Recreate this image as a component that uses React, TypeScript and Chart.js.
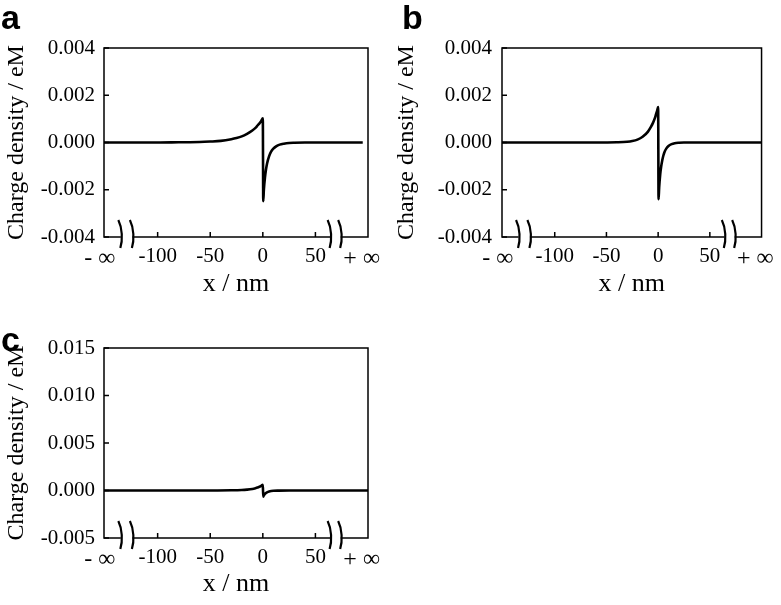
import React, { useEffect, useRef } from 'react';
import { Chart, registerables } from 'chart.js';

Chart.register(...registerables);

// ---- data (x in nm, charge density in eM) ----
const xA = [-151, -120, -100, -80, -60, -50, -40, -30, -25, -20, -15, -10, -7, -5, -3, -1.5, 0, 0.4, 1, 2, 3, 4, 6, 8, 10, 13, 16, 20, 25, 30, 40, 60, 80, 95];
const yA = [0, 0, 0, 0.00001, 0.00002, 0.00004, 0.00007, 0.00014, 0.00019, 0.00026, 0.00037, 0.00051, 0.00062, 0.00072, 0.00082, 0.00091, 0.00102, -0.00248, -0.002, -0.0015, -0.00115, -0.0009, -0.00058, -0.00038, -0.00026, -0.00015, -0.00009, -0.00005, -0.00002, -0.00001, 0, 0, 0, 0];

const xB = [-151, -100, -60, -40, -30, -25, -20, -15, -10, -7, -5, -3, -2, -1, 0, 0.4, 1, 2, 3, 4, 5, 6, 8, 10, 13, 16, 20, 25, 30, 40, 60, 100];
const yB = [0, 0, 0, 0.00001, 0.00003, 0.00006, 0.00012, 0.00024, 0.00045, 0.00066, 0.00083, 0.00105, 0.0012, 0.00134, 0.0015, -0.0024, -0.0019, -0.00135, -0.001, -0.00075, -0.00056, -0.00042, -0.00025, -0.00015, -0.00007, -0.00003, -0.00001, 0, 0, 0, 0, 0];

const xC = [-151, -60, -30, -20, -15, -10, -7, -5, -3, -1.5, 0, 0.4, 1, 2, 3, 4, 6, 8, 10, 15, 25, 40, 100];
const yC = [0, 0, 0.00002, 0.00005, 0.00009, 0.00016, 0.00024, 0.00031, 0.0004, 0.0005, 0.0006, -0.00065, -0.0005, -0.00036, -0.00027, -0.0002, -0.00011, -0.00006, -0.00003, -0.00001, 0, 0, 0];

const yTicksAB = [-0.004, -0.002, 0, 0.002, 0.004];
const yTicksC = [-0.005, 0, 0.005, 0.01, 0.015];
const xTickValues = [-100, -50, 0, 50];
const xInfValues = [-155, 94];
const xInfLabels = ['- \u221E', '+ \u221E'];
const breakLeft = [-135, -124];
const breakRight = [64, 74];
const xMin = -151;
const xMax = 100;

const yTitle = 'Charge density / eM';
const xTitle = 'x / nm';
const panelLetters = ['a', 'b', 'c'];

const SERIF = "'Liberation Serif', 'Times New Roman', serif";

type PanelProps = {
  xs: number[];
  ys: number[];
  yTicks: number[];
  width: number;
  height: number;
  yAxisWidth: number;
  padTop: number;
  padRight: number;
  xAxisHeight: number;
  yTickPad: number;
  xTitlePadBottom: number;
};

const framePlugin = {
  id: 'frameBreaks',
  afterDraw(chart: any) {
    const { ctx, chartArea } = chart;
    const { left, right, top, bottom } = chartArea;
    const x = chart.scales.x;
    const y = chart.scales.y;
    const yTicks: number[] = chart.options.plugins.frameBreaks.yTicks;
    ctx.save();
    ctx.strokeStyle = '#000';
    ctx.lineWidth = 1.5;
    ctx.strokeRect(left, top, right - left, bottom - top);
    ctx.beginPath();
    for (const v of yTicks) {
      const py = y.getPixelForValue(v);
      ctx.moveTo(left, py);
      ctx.lineTo(left + 5, py);
    }
    for (const v of xTickValues) {
      const px = x.getPixelForValue(v);
      ctx.moveTo(px, bottom);
      ctx.lineTo(px, bottom - 5);
    }
    ctx.stroke();
    for (const pair of [breakLeft, breakRight]) {
      const p1 = x.getPixelForValue(pair[0]);
      const p2 = x.getPixelForValue(pair[1]);
      ctx.fillStyle = '#fff';
      ctx.fillRect(p1, bottom - 2, p2 - p1, 4);
      ctx.lineWidth = 2.2;
      for (const p of [p1, p2]) {
        ctx.beginPath();
        ctx.moveTo(p - 2.5, bottom - 17);
        ctx.bezierCurveTo(p + 1.5, bottom - 9, p + 2, bottom + 3, p - 0.5, bottom + 11);
        ctx.stroke();
      }
    }
    ctx.restore();
  },
};

function Panel(props: PanelProps) {
  const ref = useRef<HTMLCanvasElement | null>(null);
  useEffect(() => {
    if (!ref.current) return;
    const { xs, ys, yTicks } = props;
    const chart = new Chart(ref.current, {
      type: 'line',
      data: {
        datasets: [
          {
            data: xs.map((x, i) => ({ x, y: ys[i] })),
            borderColor: '#000',
            borderWidth: 2.6,
            pointRadius: 0,
            fill: false,
            cubicInterpolationMode: 'monotone',
          },
        ],
      },
      options: {
        animation: false,
        responsive: false,
        devicePixelRatio: 1,
        layout: { padding: { left: 0, top: props.padTop, right: props.padRight, bottom: 0 } },
        plugins: {
          legend: { display: false },
          tooltip: { enabled: false },
          frameBreaks: { yTicks },
        } as any,
        scales: {
          x: {
            type: 'linear',
            min: xMin,
            max: xMax,
            grid: { display: false, drawTicks: false },
            border: { display: false },
            afterBuildTicks: (s: any) => {
              s.ticks = [
                { value: xInfValues[0] },
                ...xTickValues.map((v) => ({ value: v })),
                { value: xInfValues[1] },
              ];
            },
            afterFit: (s: any) => {
              s.height = props.xAxisHeight;
            },
            ticks: {
              autoSkip: false,
              maxRotation: 0,
              padding: 7,
              color: '#000',
              font: (c: any) => {
                const v = c && c.tick ? c.tick.value : 0;
                const inf = xInfValues.indexOf(v) >= 0;
                return { family: SERIF, size: inf ? 24 : 21 };
              },
              callback: (v: any) => {
                const idx = xInfValues.indexOf(v);
                if (idx >= 0) return xInfLabels[idx];
                return String(v);
              },
            },
            title: {
              display: true,
              text: xTitle,
              color: '#000',
              font: { family: SERIF, size: 26 },
              padding: { top: 0, bottom: props.xTitlePadBottom },
            },
          },
          y: {
            type: 'linear',
            min: yTicks[0],
            max: yTicks[yTicks.length - 1],
            grid: { display: false, drawTicks: false },
            border: { display: false },
            afterBuildTicks: (s: any) => {
              s.ticks = yTicks.map((v) => ({ value: v }));
            },
            afterFit: (s: any) => {
              s.width = props.yAxisWidth;
            },
            ticks: {
              padding: props.yTickPad,
              color: '#000',
              font: { family: SERIF, size: 21 },
              callback: (v: any) => {
                const n = Math.abs(v) < 1e-12 ? 0 : Number(v);
                return n.toFixed(3);
              },
            },
            title: {
              display: true,
              text: yTitle,
              color: '#000',
              font: { family: SERIF, size: 24 },
              padding: { top: 2, bottom: 0 },
            },
          },
        },
      } as any,
      plugins: [framePlugin],
    });
    return () => chart.destroy();
  }, []);
  return <canvas ref={ref} width={props.width} height={props.height} style={{ display: 'block' }} />;
}

const letterStyle: React.CSSProperties = {
  position: 'absolute',
  fontFamily: "'Liberation Sans', Arial, sans-serif",
  fontWeight: 'bold',
  fontSize: 34,
  lineHeight: '34px',
  color: '#000',
};

export default function App() {
  return (
    <div style={{ position: 'absolute', left: 0, top: 0, width: 781, height: 605, background: '#fff', overflow: 'hidden' }}>
      <div style={{ position: 'absolute', left: 0, top: 0 }}>
        <Panel xs={xA} ys={yA} yTicks={yTicksAB} width={390} height={300} yAxisWidth={104} padTop={48} padRight={22} xAxisHeight={63} yTickPad={9} xTitlePadBottom={0} />
      </div>
      <div style={{ position: 'absolute', left: 390, top: 0 }}>
        <Panel xs={xB} ys={yB} yTicks={yTicksAB} width={391} height={300} yAxisWidth={112} padTop={48} padRight={14} xAxisHeight={63} yTickPad={10} xTitlePadBottom={0} />
      </div>
      <div style={{ position: 'absolute', left: 0, top: 300 }}>
        <Panel xs={xC} ys={yC} yTicks={yTicksC} width={390} height={305} yAxisWidth={104} padTop={48} padRight={22} xAxisHeight={67} yTickPad={9} xTitlePadBottom={5} />
      </div>
      <div style={{ ...letterStyle, left: 1, top: 0 }}>{panelLetters[0]}</div>
      <div style={{ ...letterStyle, left: 402, top: 0 }}>{panelLetters[1]}</div>
      <div style={{ ...letterStyle, left: 1, top: 322 }}>{panelLetters[2]}</div>
    </div>
  );
}
